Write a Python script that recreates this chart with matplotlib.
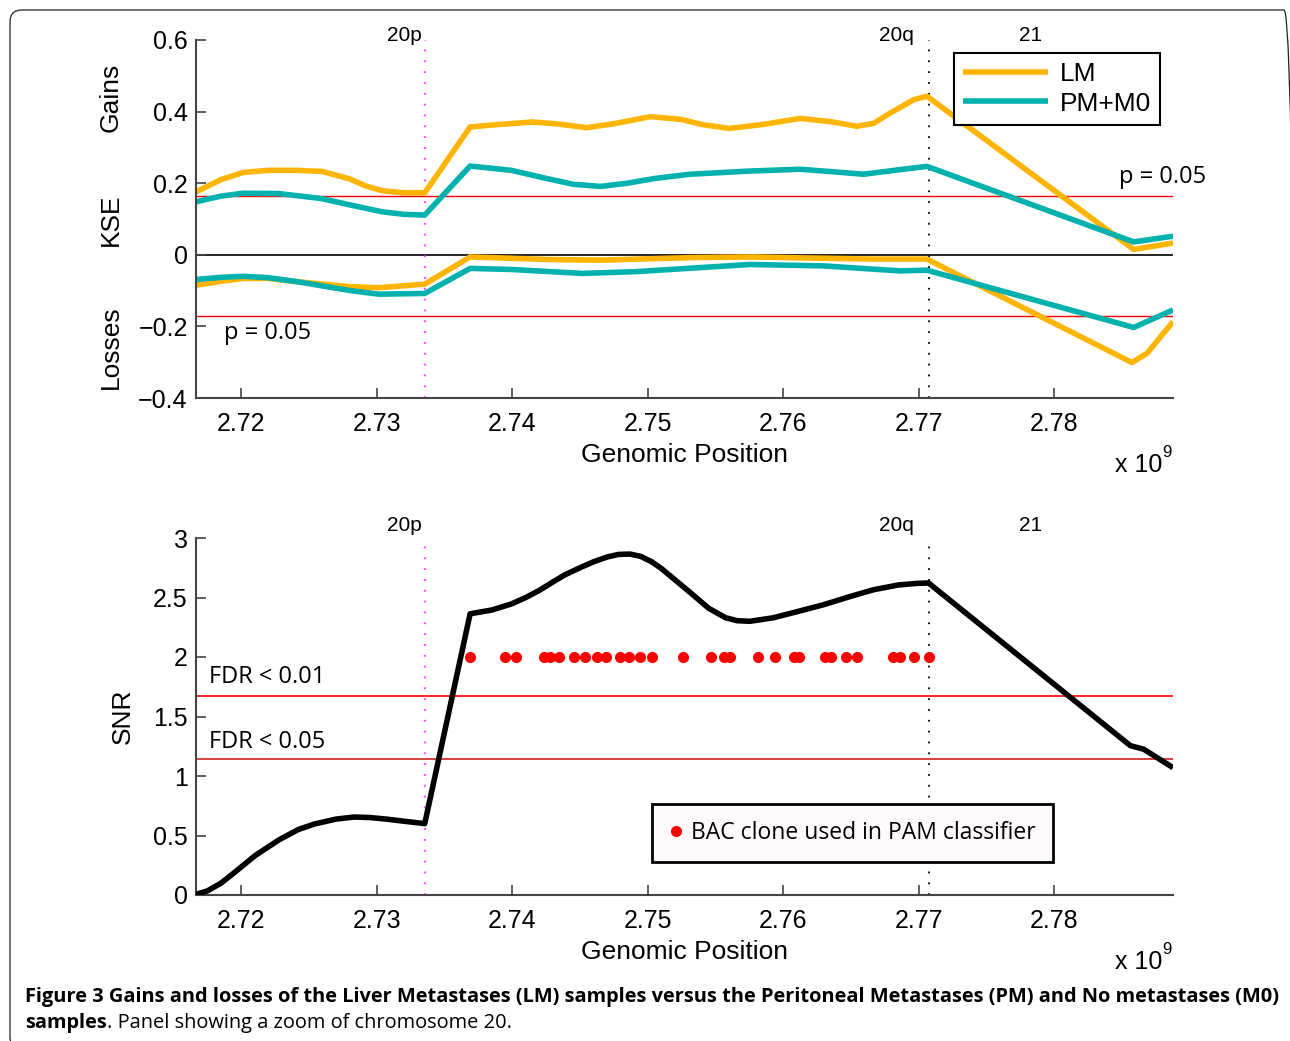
import matplotlib
matplotlib.use("Agg")
import matplotlib.pyplot as plt
from matplotlib.patches import FancyBboxPatch
from matplotlib.transforms import IdentityTransform, blended_transform_factory

# ---- data (genomic position in units of 1e9) ----
lm_gain_x = [2.71665, 2.71850, 2.72013, 2.7220, 2.72400, 2.72594, 2.7280, 2.72920,
             2.73042, 2.7320, 2.73354, 2.73689, 2.73900, 2.74150, 2.74350, 2.74546,
             2.74750, 2.75021, 2.75250, 2.75400, 2.75602, 2.75850, 2.76126, 2.76350,
             2.76544, 2.76667, 2.76791, 2.76963, 2.77062, 2.78589, 2.78879]
lm_gain_y = [0.176, 0.210, 0.230, 0.236, 0.236, 0.233, 0.212, 0.192,
             0.179, 0.173, 0.173, 0.357, 0.364, 0.371, 0.365, 0.355,
             0.366, 0.386, 0.378, 0.364, 0.353, 0.364, 0.381, 0.372,
             0.359, 0.367, 0.396, 0.433, 0.443, 0.015, 0.033]

pm_gain_x = [2.71665, 2.71850, 2.72013, 2.72277, 2.72594, 2.72805, 2.73042, 2.73200,
             2.73354, 2.73689, 2.73992, 2.74256, 2.74450, 2.74652, 2.74850, 2.75047,
             2.75311, 2.75755, 2.76126, 2.76400, 2.76594, 2.76865, 2.77062, 2.78589,
             2.78879]
pm_gain_y = [0.148, 0.164, 0.172, 0.171, 0.157, 0.139, 0.120, 0.113,
             0.111, 0.248, 0.236, 0.213, 0.197, 0.191, 0.200, 0.213,
             0.225, 0.234, 0.239, 0.231, 0.225, 0.238, 0.247, 0.036,
             0.052]

lm_loss_x = [2.71665, 2.71850, 2.72013, 2.72200, 2.72409, 2.72805, 2.73016, 2.73354,
             2.73689, 2.74256, 2.74652, 2.75311, 2.75755, 2.76667, 2.77062,
             2.78576, 2.78687, 2.78879]
lm_loss_y = [-0.085, -0.074, -0.066, -0.066, -0.075, -0.089, -0.092, -0.082,
             -0.006, -0.013, -0.015, -0.008, -0.006, -0.012, -0.012,
             -0.301, -0.275, -0.187]

pm_loss_x = [2.71665, 2.71850, 2.72013, 2.72200, 2.72409, 2.72805, 2.73016, 2.73354,
             2.73689, 2.73992, 2.74520, 2.74916, 2.75755, 2.76298, 2.76865, 2.77062,
             2.78589, 2.78879]
pm_loss_y = [-0.069, -0.063, -0.060, -0.064, -0.075, -0.100, -0.110, -0.108,
             -0.038, -0.041, -0.052, -0.047, -0.027, -0.031, -0.045, -0.043,
             -0.203, -0.154]

snr_x = [2.71665, 2.71750, 2.71850, 2.71950, 2.72100, 2.72277, 2.72420, 2.72541,
         2.72700, 2.72831, 2.72950, 2.73069, 2.73200, 2.73354, 2.73689, 2.73850,
         2.73992, 2.74100, 2.74200, 2.74300, 2.74388, 2.74500, 2.74600, 2.74700,
         2.74784, 2.74870, 2.74950, 2.75030, 2.75100, 2.75200, 2.75311, 2.75450,
         2.75575, 2.75660, 2.75755, 2.75929, 2.76100, 2.76298, 2.76500, 2.76667,
         2.76850, 2.76980, 2.77074, 2.78564, 2.78663, 2.78879]
snr_y = [0.005, 0.035, 0.10, 0.19, 0.33, 0.463, 0.55, 0.597,
         0.638, 0.655, 0.651, 0.638, 0.620, 0.600, 2.363, 2.395,
         2.445, 2.500, 2.560, 2.630, 2.690, 2.750, 2.800, 2.840,
         2.862, 2.865, 2.845, 2.800, 2.745, 2.650, 2.545, 2.410,
         2.330, 2.305, 2.300, 2.330, 2.380, 2.439, 2.510, 2.565,
         2.605, 2.618, 2.622, 1.255, 1.225, 1.07]

bac_x = [2.73689, 2.73947, 2.74026, 2.74237, 2.74282, 2.74348, 2.74454, 2.74541,
         2.74625, 2.74691, 2.74797, 2.74863, 2.74942, 2.75034, 2.75259, 2.75470,
         2.75562, 2.75607, 2.75818, 2.75941, 2.76084, 2.76121, 2.76310, 2.76352,
         2.76466, 2.76549, 2.76810, 2.76865, 2.76968, 2.77079]
bac_level = 2.0

p_gain = 0.165
p_loss = -0.17
fdr01 = 1.672
fdr05 = 1.145

band_names = ["20p", "20q", "21"]
band_label_x = [2.7320, 2.7684, 2.77825]
p_arm_x = 2.73359
q_arm_x = 2.77074

xlim = (2.71665, 2.78879)
xticks = [2.72, 2.73, 2.74, 2.75, 2.76, 2.77, 2.78]
xtick_labels = ["2.72", "2.73", "2.74", "2.75", "2.76", "2.77", "2.78"]
kse_ticks = [-0.4, -0.2, 0, 0.2, 0.4, 0.6]
kse_labels = ["\u22120.4", "\u22120.2", "0", "0.2", "0.4", "0.6"]
snr_ticks = [0, 0.5, 1, 1.5, 2, 2.5, 3]
snr_labels = ["0", "0.5", "1", "1.5", "2", "2.5", "3"]

orange = "#FFB400"
teal = "#00B1AE"
magenta = "#FF33FF"
arial = "Liberation Sans"
myriad = "Open Sans"

plt.rcParams["font.family"] = arial

fig = plt.figure(figsize=(12.9, 10.41), dpi=100)
ax1 = fig.add_axes([196 / 1290, 1 - 398 / 1041, 977 / 1290, 358 / 1041])
ax2 = fig.add_axes([196 / 1290, 1 - 895 / 1041, 977 / 1290, 357 / 1041])


def style_axis(ax):
    for s in ["top", "right"]:
        ax.spines[s].set_visible(False)
    for s in ["left", "bottom"]:
        ax.spines[s].set_color("#444444")
        ax.spines[s].set_linewidth(1.5)
    ax.tick_params(direction="in", length=7, width=1.2, color="#444444",
                   labelsize=18, pad=6)
    ax.tick_params(axis="x", pad=10)
    ax.set_xlim(*xlim)
    ax.set_xticks(xticks)
    ax.set_xticklabels(xtick_labels)
    ax.set_facecolor("none")


# ---- top panel: KSE ----
style_axis(ax1)
ax1.set_ylim(-0.4, 0.6)
ax1.set_yticks(kse_ticks)
ax1.set_yticklabels(kse_labels)

ax1.axhline(0, color="black", lw=1.2, zorder=1)
ax1.axhline(p_gain, color="red", lw=1, zorder=1)
ax1.axhline(p_loss, color="red", lw=1, zorder=1)
ax1.axvline(p_arm_x, color=magenta, lw=1.3, ls=(0, (1, 5)), zorder=1)
ax1.axvline(q_arm_x, color="black", lw=1.3, ls=(0, (1, 5)), zorder=1)

kw = dict(lw=4, solid_joinstyle="round", solid_capstyle="butt")
l1, = ax1.plot(lm_gain_x, lm_gain_y, color=orange, label="LM", **kw)
l2, = ax1.plot(pm_gain_x, pm_gain_y, color=teal, label="PM+M0", **kw)
ax1.plot(lm_loss_x, lm_loss_y, color=orange, **kw)
ax1.plot(pm_loss_x, pm_loss_y, color=teal, **kw)

ax1.text(2.7848, 0.218, "p = 0.05", fontsize=17, family=myriad, va="center", ha="left")
ax1.text(2.71874, -0.218, "p = 0.05", fontsize=17, family=myriad, va="center", ha="left")

leg1 = ax1.legend(handles=[l1, l2], loc="upper right", bbox_to_anchor=(0.9867, 0.9637),
                  borderaxespad=0, fancybox=False, framealpha=1, edgecolor="black",
                  fontsize=19, handlelength=3.2, handletextpad=0.45, borderpad=0.35,
                  labelspacing=0.2)
leg1.get_frame().set_linewidth(1.5)
leg1.set_zorder(5)

for label, ypos in [("Gains", 0.841), ("KSE", 0.497), ("Losses", 0.142)]:
    ax1.text(-0.087, ypos, label, transform=ax1.transAxes, rotation=90,
             fontsize=19, ha="center", va="center")

# ---- bottom panel: SNR ----
style_axis(ax2)
ax2.set_ylim(0, 3)
ax2.set_yticks(snr_ticks)
ax2.set_yticklabels(snr_labels)

ax2.axhline(fdr01, color="red", lw=1.2, zorder=1)
ax2.axhline(fdr05, color="#D02020", lw=1.2, zorder=1)
ax2.axvline(p_arm_x, color=magenta, lw=1.3, ls=(0, (1, 5)), zorder=1)
ax2.axvline(q_arm_x, color="black", lw=1.3, ls=(0, (1, 5)), zorder=1)

ax2.plot(snr_x, snr_y, color="black", zorder=3, **kw)
dots, = ax2.plot(bac_x, [bac_level] * len(bac_x), ls="none", marker="o",
                 markersize=8, color="red", markeredgewidth=0, zorder=4,
                 label="BAC clone used in PAM classifier")

ax2.text(2.71764, 1.83, "FDR < 0.01", fontsize=17, family=myriad, va="center", ha="left")
ax2.text(2.71764, 1.287, "FDR < 0.05", fontsize=17, family=myriad, va="center", ha="left")

leg2 = ax2.legend(handles=[dots], loc="lower right", bbox_to_anchor=(0.877, 0.0924),
                  borderaxespad=0, fancybox=False, framealpha=1, edgecolor="black",
                  facecolor="#FFFBFC", prop={"family": myriad, "size": 16.5},
                  handlelength=0.6, handletextpad=0.35, borderpad=0.75)
leg2.get_frame().set_linewidth(2)
leg2.set_zorder(5)

ax2.text(-0.0747, 0.5, "SNR", transform=ax2.transAxes, rotation=90,
         fontsize=19, ha="center", va="center")

# ---- shared decorations ----
for ax, band_y in [(ax1, 1.0126), (ax2, 1.035)]:
    trans = blended_transform_factory(ax.transData, ax.transAxes)
    for name, bx in zip(band_names, band_label_x):
        ax.text(bx, band_y, name, transform=trans, fontsize=15,
                ha="center", va="center", clip_on=False)
    ax.set_xlabel("Genomic Position", fontsize=19)
    ax.xaxis.set_label_coords(0.5, -0.125)
    ax.text(0.9888, -0.187, "x 10", transform=ax.transAxes, fontsize=18,
            ha="right", va="center")
    ax.text(0.9888, -0.152, "9", transform=ax.transAxes, fontsize=12,
            ha="left", va="center")

# ---- caption ----
fig.text(25 / 1290, 1 - 997 / 1041,
         "Figure 3 Gains and losses of the Liver Metastases (LM) samples versus the "
         "Peritoneal Metastases (PM) and No metastases (M0)",
         family=myriad, fontweight="bold", fontsize=14.4, ha="left", va="center")
cap2 = fig.text(25 / 1290, 1 - 1023 / 1041, "samples", family=myriad,
                fontweight="bold", fontsize=14.4, ha="left", va="center")
ax2.annotate(". Panel showing a zoom of chromosome 20.", xy=(1, 0), xycoords=cap2,
             family=myriad, fontsize=14.4, ha="left", va="bottom",
             annotation_clip=False)

# ---- page frame ----
frame = FancyBboxPatch((10, -8), 1286, 1041 - 10 + 8,
                       boxstyle="round,pad=0,rounding_size=12",
                       transform=IdentityTransform(), fill=False,
                       edgecolor="#222222", lw=0.9)
fig.add_artist(frame)

fig.savefig("out.png", dpi=100)
